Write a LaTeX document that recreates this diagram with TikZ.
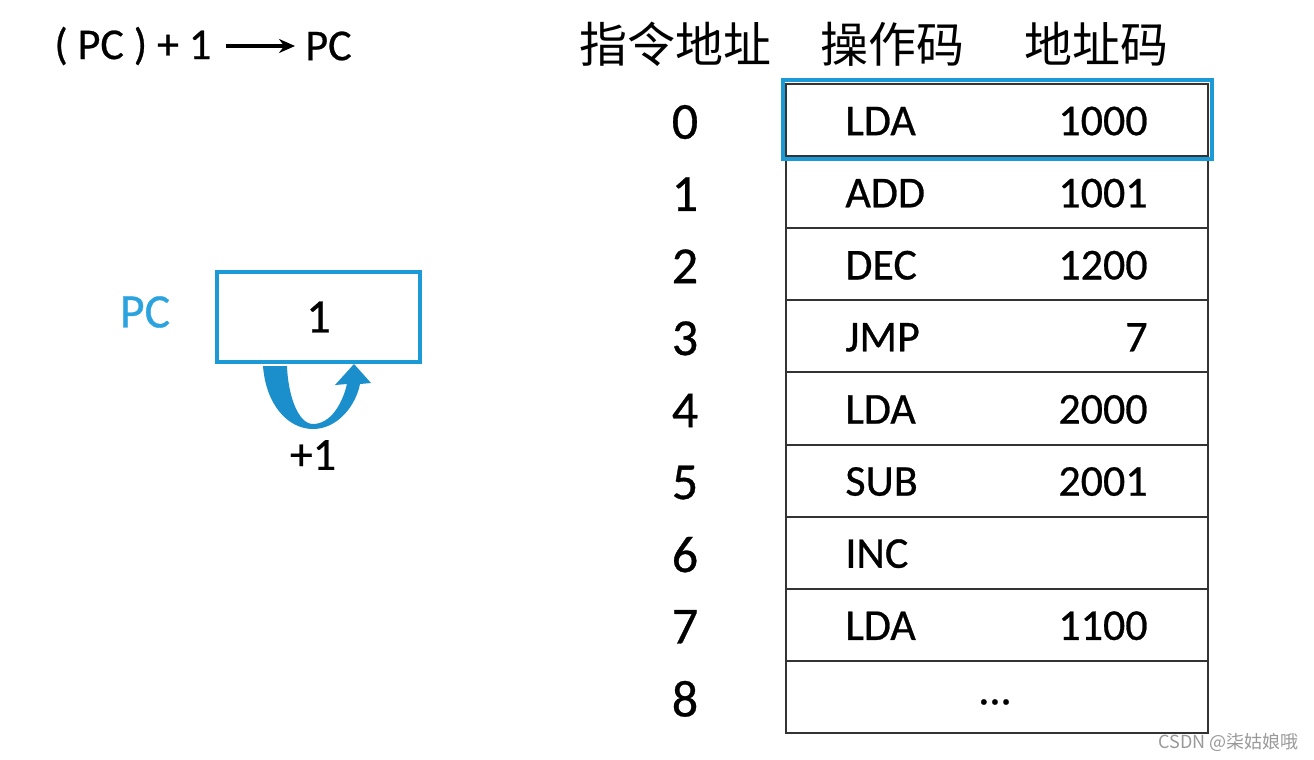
\documentclass[tikz,border=0pt]{standalone}
\usepackage{fontspec}
\setmainfont{Carlito}[FakeBold=0.6]
\newfontfamily\cjk{Noto Sans CJK SC}
\newfontfamily\wmfont{Noto Sans CJK SC}
\usetikzlibrary{arrows.meta}
\definecolor{pcblue}{HTML}{1C9AD6}
\definecolor{pctext}{HTML}{2AA3DE}
\definecolor{arrowblue}{HTML}{1A8FCC}
\definecolor{gridline}{HTML}{333333}
\tikzset{
  cell/.style={draw=gridline, line width=1pt, minimum width=211pt, minimum height=36.05pt, inner sep=0pt},
  op/.style={anchor=west, font=\fontsize{22}{26}\selectfont, inner sep=0pt},
  addr/.style={anchor=east, font=\fontsize{22}{26}\selectfont, inner sep=0pt},
  rownum/.style={font=\fontsize{26}{30}\selectfont, inner sep=0pt},
  header/.style={font=\cjk\fontsize{24}{28}\selectfont, inner sep=0pt},
  pcbox/.style={draw=pcblue, line width=2pt, minimum width=101.5pt, minimum height=45pt, inner sep=0pt},
  formula/.style={font=\fontsize{22}{26}\selectfont, inner sep=0pt, anchor=west},
}
\begin{document}
\begin{tikzpicture}[x=0.5pt,y=-0.5pt]
\useasboundingbox (0,0) rectangle (1314,760);
% formula
\node[formula] (f1) at (54,46) {( PC ) + 1};
\node[formula] (f2) at (305,46) {PC};
\draw[line width=1.6pt, -{Stealth[length=8pt,width=7pt]}] ([xshift=7pt]f1.east) -- ([xshift=-5pt]f2.west);
% PC register
\node[pcbox] (pc) at (318.5,317) {\fontsize{24}{28}\selectfont 1};
\node[font=\fontsize{24}{28}\selectfont, text=pctext, inner sep=0pt] (pclabel) at (145,312) {PC};
\node[font=\fontsize{23}{27}\selectfont, inner sep=0pt] (plus) at (313,455) {+1};
\fill[arrowblue] (263,366) .. controls (266,405) and (288,429) .. (313,429)
  .. controls (338,429) and (356,405) .. (360,384)
  -- (371,383) -- (354,364) -- (335,385) -- (347,384)
  .. controls (342,405) and (330,424) .. (313,424)
  .. controls (298,424) and (288,395) .. (287,366) -- cycle;
% headers
\node[header] (h1) at (675,44) {指令地址};
\node[header] (h2) at (892,44) {操作码};
\node[header] (h3) at (1096,44) {地址码};
% table
\foreach \i/\op/\ad in {0/LDA/1000,1/ADD/1001,2/DEC/1200,3/JMP/7,4/LDA/2000,5/SUB/2001,6/INC/,7/LDA/1100,8//}{
  \pgfmathsetmacro{\yy}{120.05+72.1*\i}
  \node[cell] (r\i) at (997,\yy) {};
  \node[rownum] (n\i) at (685,\yy+2) {\i};
  \node[op] (o\i) at (845,\yy+1) {\op};
  \node[addr] (a\i) at (1148,\yy+1) {\ad};
}
\node[font=\fontsize{22}{26}\selectfont, inner sep=0pt] (dots) at (995,702) {...};
% highlight
\draw[pcblue, line width=2pt] (783,80) rectangle (1212,159);
% watermark
\node[font=\wmfont\fontsize{9}{11}\selectfont, text=gray!80, anchor=east, inner sep=0pt] (wm) at (1299,742) {CSDN @柒姑娘哦};
\end{tikzpicture}
\end{document}
